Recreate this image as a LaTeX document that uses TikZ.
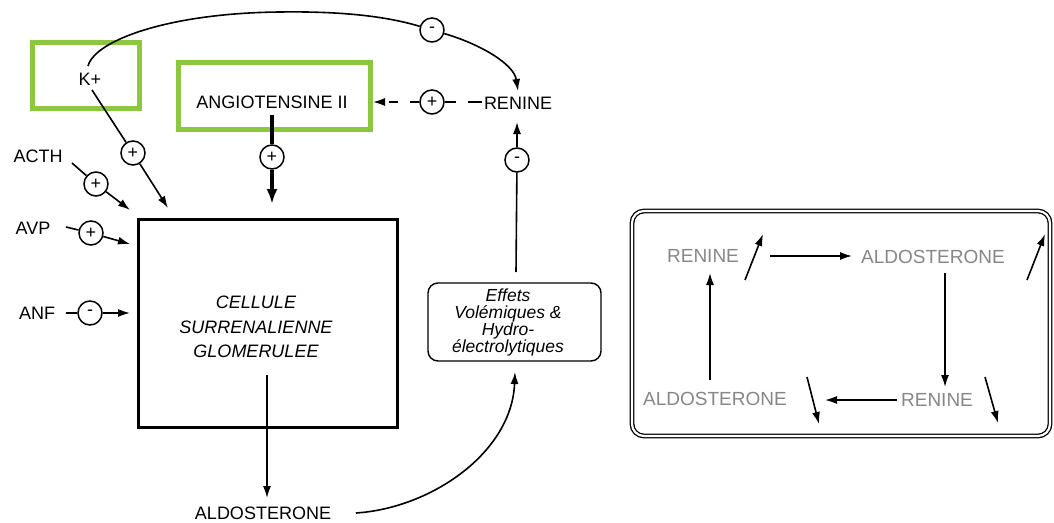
\documentclass[tikz,border=0pt]{standalone}
\usepackage{fontspec}
\setmainfont{Liberation Sans}
\usetikzlibrary{arrows.meta}
\definecolor{hlgreen}{RGB}{141,198,63}
\definecolor{txtgray}{RGB}{135,135,135}
\begin{document}
\begin{tikzpicture}[x=1pt,y=-1pt,
  lbl/.style={font=\fontsize{18}{20}\selectfont, inner sep=0pt},
  sgn/.style={circle, draw, line width=1.5pt, minimum size=24pt, inner sep=0pt, font=\fontsize{18}{18}\selectfont},
  ln/.style={line width=1.6pt},
  arr/.style={line width=1.6pt, -{Latex[length=12pt,width=8pt]}},
  hl/.style={draw=hlgreen, line width=5pt, inner sep=0pt},
  gr/.style={font=\fontsize{19}{20}\selectfont, text=txtgray, inner sep=0pt},
  effbox/.style={draw, line width=1.4pt, rounded corners=10pt},
]
\useasboundingbox (0,0) rectangle (1054,522);

% highlighted boxes
\node[hl, minimum width=107pt, minimum height=66pt] (kbox) at (85.5,75.5) {};
\node[hl, minimum width=192pt, minimum height=67pt] (angbox) at (274,95.5) {};

% labels
\node[lbl] (k) at (90,79) {K+};
\node[lbl] (ang) at (272,102) {ANGIOTENSINE II};
\node[lbl] (acth) at (38,156) {ACTH};
\node[lbl] (avp) at (33,228) {AVP};
\node[lbl] (anf) at (37,313) {ANF};
\node[lbl] (ren) at (518,103) {RENINE};
\node[lbl] (aldo) at (263,513) {ALDOSTERONE};

% cellule
\node[draw, line width=3pt, minimum width=259pt, minimum height=208pt] (cell) at (267.5,323) {};
\node[font=\itshape\fontsize{18}{24.5}\selectfont, align=center, inner sep=0pt] (celltxt) at (256,327) {CELLULE\\SURRENALIENNE\\GLOMERULEE};

% effets box
\node[effbox, minimum width=173pt, minimum height=78pt] (eff) at (514.5,322) {};
\node[font=\itshape\fontsize{17.5}{17}\selectfont, align=center, inner sep=0pt] (efftxt) at (508,322) {Effets\\Vol\'emiques \&\\Hydro-\\\'electrolytiques};

% sign circles
\node[sgn] (s0) at (432,30) {-};
\node[sgn] (s1) at (133,153) {+};
\node[sgn] (s2) at (272,157) {+};
\node[sgn] (s3) at (96,184) {+};
\node[sgn] (s4) at (91,233) {+};
\node[sgn] (s5) at (90,313) {-};
\node[sgn] (s6) at (517,160) {-};
\node[sgn] (s7) at (432,102) {+};

% coordinates
\coordinate (ktop) at (88,66);
\coordinate (kbot) at (92,90);
\coordinate (kend) at (168,208);
\coordinate (angbot) at (272,115);
\coordinate (angend) at (272,204);
\coordinate (acthE) at (72,163);
\coordinate (acthend) at (130,210);
\coordinate (avpE) at (66,227);
\coordinate (avpend) at (130,244);
\coordinate (anfE) at (66,313);
\coordinate (anfend) at (130,313);
\coordinate (rentop) at (518,91);
\coordinate (renbot) at (517,122);
\coordinate (vstart) at (516,272);
\coordinate (renW) at (482,102);
\coordinate (angE) at (373,102);
\coordinate (cellin) at (267,375);
\coordinate (aldotop) at (267,498);
\coordinate (aldoE) at (356,513);
\coordinate (effS) at (515,372);

% top curve K+ -> (-) -> RENINE
\draw[ln] (ktop) .. controls (95,40) and (170,13) .. (280,12) .. controls (350,11) and (392,18) .. (s0);
\draw[arr] (s0) .. controls (480,44) and (514,64) .. (rentop);

% K+ -> cellule
\draw[ln] (kbot) -- (s1);
\draw[arr] (s1) -- (kend);
% Angiotensine -> cellule (thick)
\draw[line width=3.5pt] (angbot) -- (s2);
\draw[line width=3.5pt, -{Latex[length=15pt,width=11pt]}] (s2) -- (angend);
% ACTH
\draw[ln] (acthE) -- (s3);
\draw[arr] (s3) -- (acthend);
% AVP
\draw[ln] (avpE) -- (s4);
\draw[arr] (s4) -- (avpend);
% ANF
\draw[ln] (anfE) -- (s5);
\draw[arr] (s5) -- (anfend);

% effets -> renine
\draw[ln] (vstart) -- (s6);
\draw[arr] (s6) -- (renbot);
% renine -> angiotensine (dashed)
\draw[ln, dash pattern=on 14pt off 12pt] (renW) -- (s7);
\draw[arr, dash pattern=on 9pt off 12pt] (s7) -- (angE);

% cellule -> aldosterone
\draw[arr] (cellin) -- (aldotop);
% aldosterone -> effets
\draw[arr] (aldoE) .. controls (432,508) and (512,452) .. (effS);

% right box
\node[draw, double, double distance=2.2pt, line width=1.3pt, rounded corners=12pt, minimum width=418pt, minimum height=225pt] (rbox) at (841,323.5) {};
\node[gr] (r1) at (703,256) {RENINE};
\node[gr] (a1) at (933,257) {ALDOSTERONE};
\node[gr] (a2) at (715,399) {ALDOSTERONE};
\node[gr] (r2) at (937,400) {RENINE};

\coordinate (u1a) at (745,280); \coordinate (u1b) at (763,234);
\coordinate (u2a) at (1027,280); \coordinate (u2b) at (1045,234);
\coordinate (d1a) at (807,377); \coordinate (d1b) at (819,424);
\coordinate (d2a) at (985,377); \coordinate (d2b) at (998,423);
\draw[arr] (u1a) -- (u1b);
\draw[arr] (u2a) -- (u2b);
\draw[arr] (d1a) -- (d1b);
\draw[arr] (d2a) -- (d2b);

\coordinate (h1s) at (770,256); \coordinate (h1e) at (852,256);
\draw[arr] (h1s) -- (h1e);
\coordinate (v1s) at (945,273); \coordinate (v1e) at (945,387);
\draw[arr] (v1s) -- (v1e);
\coordinate (h2s) at (897,400); \coordinate (h2e) at (825,400);
\draw[arr] (h2s) -- (h2e);
\coordinate (v2s) at (710,380); \coordinate (v2e) at (710,273);
\draw[arr] (v2s) -- (v2e);
\end{tikzpicture}
\end{document}
